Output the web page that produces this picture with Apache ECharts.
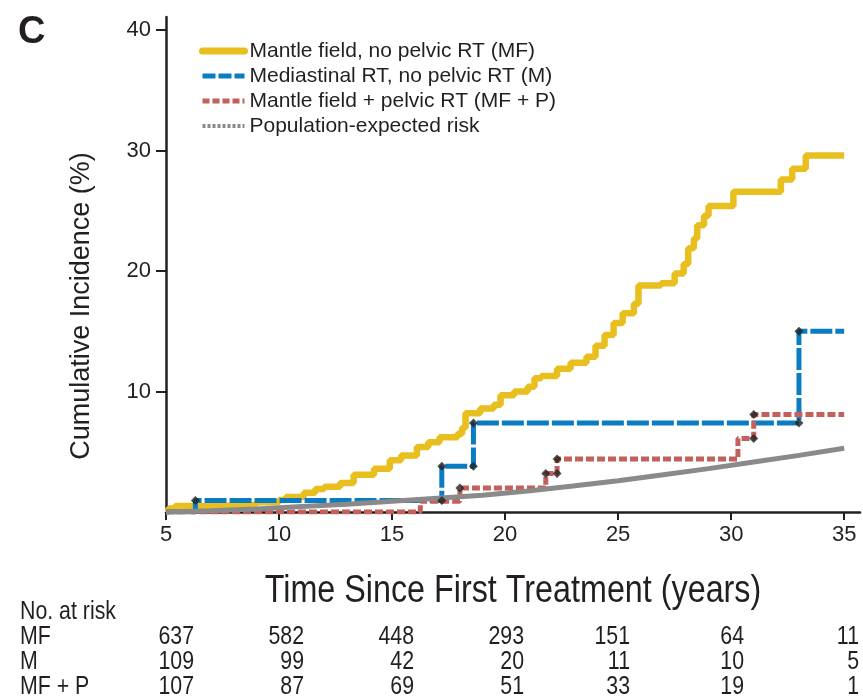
<!DOCTYPE html>
<html>
<head>
<meta charset="utf-8">
<script src="https://cdn.jsdelivr.net/npm/echarts@6/dist/echarts.min.js"></script>
<style>
html,body{margin:0;padding:0;background:#fff;}
#chart{width:863px;height:699px;}
</style>
</head>
<body>
<div id="chart"></div>
<script>
// ---------- DATA ----------
const xTicks = [5, 10, 15, 20, 25, 30, 35];
const yTicks = [10, 20, 30, 40];
const seriesNames = [
  'Mantle field, no pelvic RT (MF)',
  'Mediastinal RT, no pelvic RT (M)',
  'Mantle field + pelvic RT (MF + P)',
  'Population-expected risk'
];
// step curves: [years, cumulative incidence %]
const mfCurve = [
  [5,0],[5.1,0.3],[5.4,0.5],[7.5,0.6],[9,0.8],[10,1.0],[10.3,1.25],[11.1,1.6],[11.6,1.9],
  [12.0,2.1],[12.7,2.4],[13.3,3.1],[14.2,3.6],[14.9,4.3],[15.4,4.7],[16.1,5.4],[16.6,5.8],
  [17.1,6.2],[17.9,6.5],[18.1,7.0],[18.25,8.2],[18.9,8.6],[19.5,8.9],[19.8,9.7],[20.4,10.0],
  [21.0,10.4],[21.3,11.1],[21.6,11.3],[22.3,11.9],[22.9,12.4],[23.6,12.9],[24.0,13.8],
  [24.4,14.7],[24.8,15.7],[25.2,16.5],[25.7,17.3],[25.9,18.8],[26.9,19.0],[27.5,19.8],
  [27.9,20.6],[28.1,21.9],[28.35,22.7],[28.5,23.8],[28.8,24.6],[29.0,25.4],[30.1,26.6],
  [32.2,27.6],[32.7,28.5],[33.3,29.6],[35,29.6]
];
const mCurve = [[5,0],[6.3,0.95],[17.2,3.8],[18.6,7.4],[33.0,15.0],[35,15.0]];
const mfpCurve = [[5,0],[16.25,0.9],[18.0,2.0],[21.8,3.2],[22.3,4.4],[30.3,6.1],[31.0,8.1],[35,8.1]];
const popCurve = [
  [5,0],[7,0.1],[9,0.25],[11,0.45],[13,0.65],[15,0.9],[17,1.15],[19,1.4],[21,1.75],
  [23,2.15],[25,2.6],[27,3.1],[29,3.6],[31,4.15],[33,4.7],[35,5.3]
];
const mMarks = [[6.3,0.95],[17.2,0.95],[17.2,3.8],[18.6,3.8],[18.6,7.4],[33.0,7.4],[33.0,15.0]];
const mfpMarks = [[18.0,2.0],[21.8,3.2],[22.3,3.2],[22.3,4.4],[31.0,6.1],[31.0,8.1]];
// number at risk table
const riskTitle = 'No. at risk';
const riskLabels = ['MF', 'M', 'MF + P'];
const riskMF = [637, 582, 448, 293, 151, 64, 11];
const riskM = [109, 99, 42, 20, 11, 10, 5];
const riskMFP = [107, 87, 69, 51, 33, 19, 1];
const xTitle = 'Time Since First Treatment (years)';
const yTitle = 'Cumulative Incidence (%)';
const panelLabel = 'C';

// ---------- STYLE / LAYOUT ----------
const colYellow = '#E8BF1E';
const colBlue = '#0A7CC4';
const colRed = '#C2615B';
const colGray = '#8A8A8A';
const ink = '#231F20';
const sans = '"Liberation Sans", Arial, Helvetica, sans-serif';
const condensed = 0.82; // horizontal squeeze to mimic a condensed face

const chart = echarts.init(document.getElementById('chart'), null, {renderer: 'canvas'});

const tableColRight = [194, 304, 414, 524, 630, 744, 859];
const tableRowY = [637, 662, 687];
const graphics = [];
function condText(text, x, y, size, align) {
  return {type: 'text', x: x, y: y, scaleX: condensed, scaleY: 1,
    style: {text: text, font: size + 'px ' + sans, fill: ink, verticalAlign: 'middle', align: align}};
}
graphics.push({type:'text', x:18, y:33, style:{text:panelLabel, font:'bold 38px ' + sans, fill:ink, verticalAlign:'middle', align:'left'}});
graphics.push({type:'text', x:82, y:306, rotation: Math.PI / 2,
  style:{text:yTitle, font:'27px ' + sans, fill:ink, verticalAlign:'middle', align:'center'}});
graphics.push({type: 'text', x: 513, y: 592, scaleX: 0.85, scaleY: 1,
  style: {text: xTitle, font: '38px ' + sans, fill: ink, verticalAlign: 'middle', align: 'center'}});
graphics.push(condText(riskTitle, 20, 612, 26, 'left'));
[riskMF, riskM, riskMFP].forEach((row, r) => {
  graphics.push(condText(riskLabels[r], 20, tableRowY[r], 26, 'left'));
  row.forEach((v, c) => {
    graphics.push(condText(String(v), tableColRight[c], tableRowY[r], 26, 'right'));
  });
});

const option = {
  animation: false,
  backgroundColor: '#fff',
  grid: {left: 166, right: 3, top: 17, bottom: 187, containLabel: false},
  xAxis: {
    type: 'value', min: 5, max: 35.7,
    axisLine: {lineStyle: {color: ink, width: 2.5}},
    axisTick: {show: true, length: 8, lineStyle: {color: ink, width: 2}, customValues: xTicks},
    axisLabel: {customValues: xTicks, margin: 12, fontSize: 22, fontFamily: sans, color: ink},
    splitLine: {show: false}
  },
  yAxis: {
    type: 'value', min: 0, max: 41.1,
    axisLine: {show: true, lineStyle: {color: ink, width: 2.5}},
    axisTick: {show: true, length: 10, lineStyle: {color: ink, width: 2}, customValues: yTicks},
    axisLabel: {customValues: yTicks, margin: 15, fontSize: 22, fontFamily: sans, color: ink},
    splitLine: {show: false}
  },
  legend: {
    orient: 'vertical', left: 194, top: 35,
    itemWidth: 42, itemHeight: 10, itemGap: 3,
    itemStyle: {opacity: 0},
    textStyle: {fontSize: 21, fontFamily: sans, color: ink, lineHeight: 22},
    data: [
      {name: seriesNames[0], itemStyle: {opacity: 0}, lineStyle: {width: 7, color: colYellow, type: 'solid', cap: 'round'}},
      {name: seriesNames[1], itemStyle: {opacity: 0}, lineStyle: {width: 5, color: colBlue, type: [13, 3]}},
      {name: seriesNames[2], itemStyle: {opacity: 0}, lineStyle: {width: 5, color: colRed, type: [7, 3]}},
      {name: seriesNames[3], itemStyle: {opacity: 0}, lineStyle: {width: 4, color: colGray, type: [3, 2]}}
    ]
  },
  series: [
    {name: seriesNames[0], type: 'line', step: 'end', data: mfCurve, symbol: 'none', z: 2,
     lineStyle: {color: colYellow, width: 6.5}, itemStyle: {color: colYellow}},
    {name: seriesNames[1], type: 'line', step: 'end', data: mCurve, symbol: 'none', z: 3,
     lineStyle: {color: colBlue, width: 5, type: [22, 3]}, itemStyle: {color: colBlue}},
    {name: seriesNames[2], type: 'line', step: 'end', data: mfpCurve, symbol: 'none', z: 3,
     lineStyle: {color: colRed, width: 5, type: [8, 3]}, itemStyle: {color: colRed}},
    {name: seriesNames[3], type: 'line', data: popCurve, symbol: 'none', z: 4,
     lineStyle: {color: colGray, width: 5}, itemStyle: {color: colGray}},
    {name: 'marksM', type: 'scatter', data: mMarks, symbol: 'diamond', symbolSize: 9, z: 6,
     itemStyle: {color: '#222'}},
    {name: 'marksMFP', type: 'scatter', data: mfpMarks, symbol: 'diamond', symbolSize: 9, z: 6,
     itemStyle: {color: '#222'}}
  ],
  graphic: graphics
};
chart.setOption(option);
</script>
</body>
</html>
